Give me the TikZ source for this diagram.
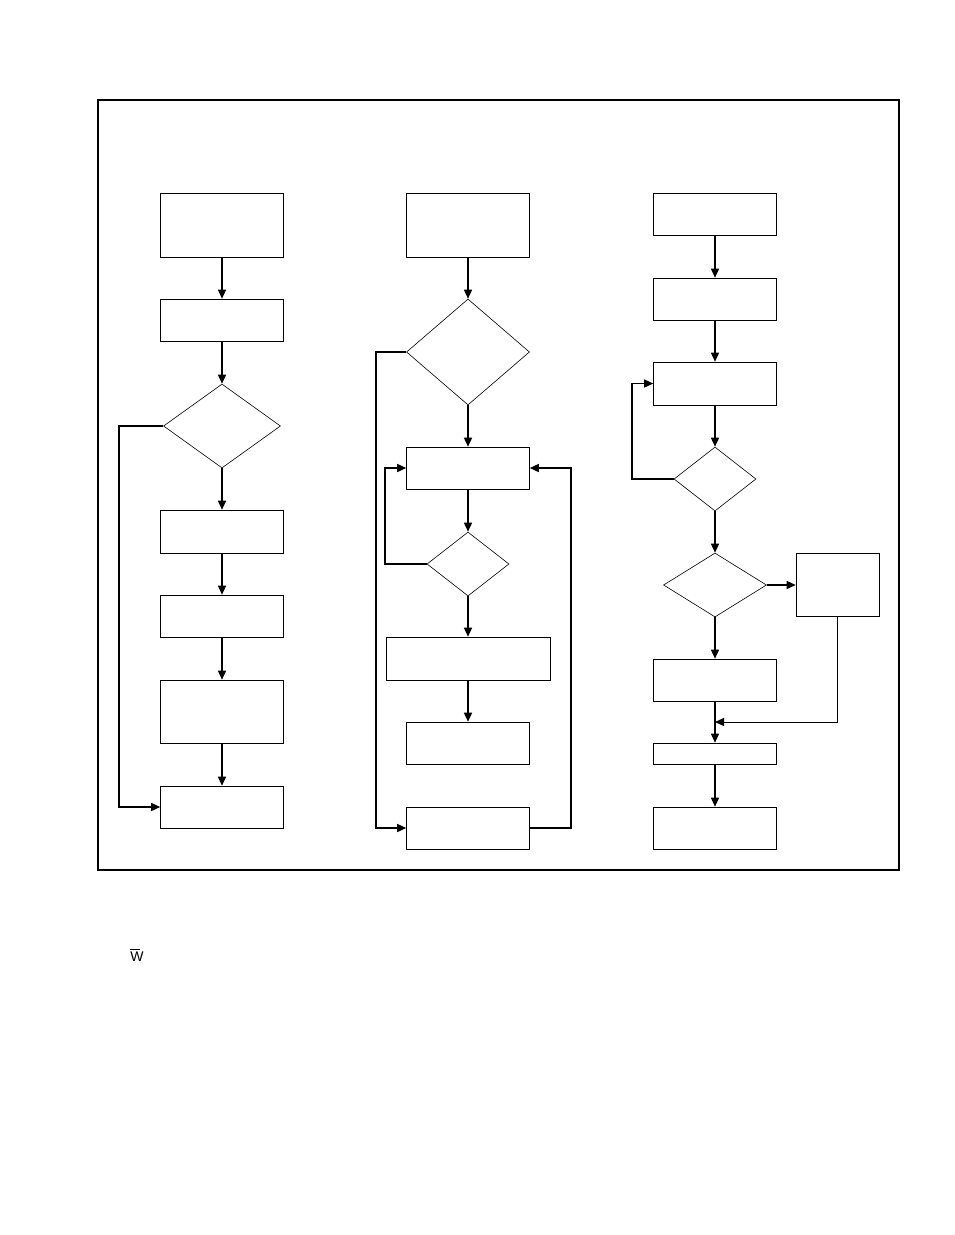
\documentclass[tikz,border=0pt]{standalone}
\usepackage{fontspec}
\setmainfont{Liberation Sans}
\usetikzlibrary{shapes.geometric,arrows.meta}
\tikzset{%
  procbox/.style = {shape=rectangle, draw, line width=0.6pt, inner sep=0pt,%
                    minimum width=123pt, minimum height=42pt},%
  decide/.style  = {shape=diamond, draw, line width=0.6pt, inner sep=0pt},%
  flow/.style    = {line width=1.5pt, -{Triangle[length=9pt,width=8pt]}},%
  plain/.style   = {line width=1.5pt}%
}
\begin{document}
\begin{tikzpicture}[x=1pt,y=-1pt]
	\useasboundingbox (0,0) rectangle (954,1235);
	\draw[line width=1.8pt] (98,100) rectangle (899,870);
	% left column
	\node[procbox, minimum height=64pt] (a1) at (222,225) {};
	\node[procbox] (a2) at (222,320) {};
	\node[decide, minimum width=117pt, minimum height=84pt] (ad) at (222,426) {};
	\node[procbox, minimum height=43pt] (a3) at (222,531.5) {};
	\node[procbox] (a4) at (222,616) {};
	\node[procbox, minimum height=63pt] (a5) at (222,711.5) {};
	\node[procbox] (a6) at (222,807) {};
	\draw[flow] (a1) -- (a2);
	\draw[flow] (a2) -- (ad);
	\draw[flow] (ad) -- (a3);
	\draw[flow] (a3) -- (a4);
	\draw[flow] (a4) -- (a5);
	\draw[flow] (a5) -- (a6);
	\draw[flow] (ad.west) -- (119,426) |- (a6.west);
	% middle column
	\node[procbox, minimum height=64pt] (b1) at (468,225) {};
	\node[decide, minimum width=123pt, minimum height=106pt] (bd1) at (468,352) {};
	\node[procbox] (b2) at (468,468) {};
	\node[decide, minimum width=82pt, minimum height=64pt] (bd2) at (468,564) {};
	\node[procbox, minimum width=164pt, minimum height=43pt] (b3) at (468,658.5) {};
	\node[procbox] (b4) at (468,743) {};
	\node[procbox] (b5) at (468,828) {};
	\draw[flow] (b1) -- (bd1);
	\draw[flow] (bd1) -- (b2);
	\draw[flow] (b2) -- (bd2);
	\draw[flow] (bd2) -- (b3);
	\draw[flow] (b3) -- (b4);
	\draw[flow] (bd2.west) -- (385,564) |- (b2.west);
	\draw[flow] (bd1.west) -- (376,352) |- (b5.west);
	\draw[flow] (b5.east) -- (571,828) |- (b2.east);
	% right column
	\node[procbox] (c1) at (715,214) {};
	\node[procbox] (c2) at (715,299) {};
	\node[procbox, minimum height=43pt] (c3) at (715,383.5) {};
	\node[decide, minimum width=82pt, minimum height=64pt] (cd1) at (715,479) {};
	\node[decide, minimum width=103pt, minimum height=64pt] (cd2) at (715,585) {};
	\node[procbox, minimum width=83pt, minimum height=63pt] (cs) at (837.5,585) {};
	\node[procbox] (c4) at (715,680) {};
	\node[procbox, minimum height=21pt] (c5) at (715,753.5) {};
	\node[procbox] (c6) at (715,828) {};
	\coordinate (cj) at (715,722);
	\draw[flow] (c1) -- (c2);
	\draw[flow] (c2) -- (c3);
	\draw[flow] (c3) -- (cd1);
	\draw[flow] (cd1) -- (cd2);
	\draw[flow] (cd2) -- (c4);
	\draw[flow] (c4) -- (c5);
	\draw[flow] (c5) -- (c6);
	\draw[flow] (cd2.east) -- (cs.west);
	\draw[flow] (cd1.west) -- (632,479) |- (c3.west);
	\draw[flow, line width=1pt] (cs.south) |- (cj);
	% note
	\node[font=\fontsize{14}{16}\selectfont, inner sep=0pt] (wn) at (137,955) {\rlap{\rule[11.5pt]{10pt}{0.6pt}}W};
\end{tikzpicture}
\end{document}
